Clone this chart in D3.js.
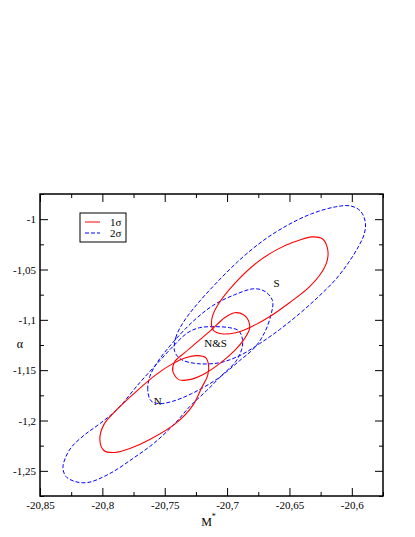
<!DOCTYPE html>
<html>
<head>
<meta charset="utf-8">
<script src="https://cdn.jsdelivr.net/npm/d3@7"></script>
<style>
  body { margin: 0; background: #fff; }
  text { font-family: "Liberation Serif", "DejaVu Serif", serif; }
</style>
</head>
<body>
<div id="chart"></div>
<script>
// axis ticks
const xTicks = [-20.85, -20.8, -20.75, -20.7, -20.65, -20.6];
const yTicks = [-1.25, -1.2, -1.15, -1.1, -1.05, -1];
const xMinor = [-20.825, -20.775, -20.725, -20.675, -20.625, -20.575];
const yMinor = [-1.275, -1.225, -1.175, -1.125, -1.075, -1.025, -0.975];

// 1 sigma contours (red), [M*, alpha]
const sigma1S = [
  [-20.7124, -1.1058], [-20.7116, -1.0959], [-20.7068, -1.0840], [-20.6956, -1.0662],
  [-20.6764, -1.0434], [-20.6604, -1.0305], [-20.6460, -1.0225], [-20.6316, -1.0176],
  [-20.6236, -1.0195], [-20.6196, -1.0285], [-20.6196, -1.0404], [-20.6244, -1.0533],
  [-20.6340, -1.0672], [-20.6500, -1.0830], [-20.6660, -1.0969], [-20.6804, -1.1068],
  [-20.6932, -1.1128], [-20.7044, -1.1138], [-20.7108, -1.1108]
];
const sigma1N = [
  [-20.8020, -1.2189], [-20.7988, -1.2041], [-20.7892, -1.1902], [-20.7756, -1.1743],
  [-20.7580, -1.1554], [-20.7436, -1.1435], [-20.7332, -1.1376], [-20.7236, -1.1356],
  [-20.7172, -1.1376], [-20.7148, -1.1455], [-20.7156, -1.1554], [-20.7204, -1.1674],
  [-20.7276, -1.1852], [-20.7404, -1.2021], [-20.7620, -1.2189], [-20.7780, -1.2279],
  [-20.7900, -1.2318], [-20.7988, -1.2298]
];
const sigma1NS = [
  [-20.7436, -1.1505], [-20.7420, -1.1416], [-20.7340, -1.1326], [-20.7236, -1.1217],
  [-20.7124, -1.1098], [-20.7020, -1.0979], [-20.6940, -1.0930], [-20.6868, -1.0949],
  [-20.6828, -1.1009], [-20.6820, -1.1088], [-20.6860, -1.1187], [-20.6940, -1.1306],
  [-20.7060, -1.1435], [-20.7180, -1.1535], [-20.7300, -1.1594], [-20.7388, -1.1594]
];

// 2 sigma contours (blue, dashed)
const sigma2S = [
  [-20.7420, -1.1316], [-20.7412, -1.1178], [-20.7348, -1.1019], [-20.7244, -1.0850],
  [-20.7100, -1.0652], [-20.6916, -1.0424], [-20.6724, -1.0225], [-20.6524, -1.0066],
  [-20.6324, -0.9947], [-20.6132, -0.9878], [-20.6012, -0.9868], [-20.5932, -0.9918],
  [-20.5892, -1.0027], [-20.5900, -1.0146], [-20.5948, -1.0275], [-20.6028, -1.0434],
  [-20.6132, -1.0602], [-20.6268, -1.0771], [-20.6420, -1.0939], [-20.6580, -1.1098],
  [-20.6740, -1.1237], [-20.6900, -1.1356], [-20.7060, -1.1426], [-20.7236, -1.1435],
  [-20.7364, -1.1396]
];
const sigma2N = [
  [-20.8316, -1.2467], [-20.8292, -1.2358], [-20.8244, -1.2259], [-20.8140, -1.2140],
  [-20.8020, -1.2031], [-20.7884, -1.1892], [-20.7700, -1.1624], [-20.7540, -1.1406],
  [-20.7436, -1.1267], [-20.7316, -1.1128], [-20.7220, -1.1078], [-20.7100, -1.1068],
  [-20.6980, -1.1078], [-20.6908, -1.1108], [-20.6876, -1.1197], [-20.6884, -1.1297],
  [-20.6932, -1.1416], [-20.7044, -1.1554], [-20.7164, -1.1703], [-20.7300, -1.1862],
  [-20.7412, -1.2021], [-20.7580, -1.2219], [-20.7756, -1.2378], [-20.7940, -1.2527],
  [-20.8116, -1.2616], [-20.8220, -1.2606], [-20.8292, -1.2556]
];
const sigma2NS = [
  [-20.7612, -1.1802], [-20.7636, -1.1693], [-20.7620, -1.1564], [-20.7556, -1.1416],
  [-20.7436, -1.1227], [-20.7276, -1.1019], [-20.7116, -1.0860], [-20.6940, -1.0751],
  [-20.6780, -1.0691], [-20.6692, -1.0721], [-20.6636, -1.0810], [-20.6644, -1.0930],
  [-20.6700, -1.1128], [-20.6780, -1.1277], [-20.6900, -1.1406], [-20.7076, -1.1584],
  [-20.7284, -1.1733], [-20.7444, -1.1812], [-20.7548, -1.1832]
];

// sample labels
const labelText = ["N", "S", "N&S"];
const labelX = [-20.7556, -20.6604, -20.7092];
const labelY = [-1.1812, -1.0632, -1.1227];

const legendText = ["1\u03c3", "2\u03c3"];

function drawContourChart(containerId) {
    const width = 415;
    const height = 537;
    const margin = { top: 194, right: 32, bottom: 41, left: 40 };
    const innerW = width - margin.left - margin.right;
    const innerH = height - margin.top - margin.bottom;
    const serif = "'Liberation Serif', 'DejaVu Serif', serif";

    const svg = d3.select(`#${containerId}`)
        .append("svg")
        .attr("width", width)
        .attr("height", height)
        .style("background", "#fff");

    const g = svg.append("g")
        .attr("transform", `translate(${margin.left}, ${margin.top})`);

    const x = d3.scaleLinear().domain([-20.85, -20.575]).range([0, innerW]);
    const y = d3.scaleLinear().domain([-1.275, -0.975]).range([innerH, 0]);

    // plain hyphen and decimal comma, as on the original
    const comma = d => String(d).replace(".", ",");

    // contours
    const line = d3.line()
        .x(d => x(d[0]))
        .y(d => y(d[1]))
        .curve(d3.curveCatmullRomClosed.alpha(0.5));

    [sigma2S, sigma2N, sigma2NS].forEach(c => {
        g.append("path")
            .attr("d", line(c))
            .attr("fill", "none")
            .attr("stroke", "#0000ff")
            .attr("stroke-width", 1)
            .attr("stroke-dasharray", "4,2");
    });
    [sigma1S, sigma1N, sigma1NS].forEach(c => {
        g.append("path")
            .attr("d", line(c))
            .attr("fill", "none")
            .attr("stroke", "#ff0000")
            .attr("stroke-width", 1.1);
    });

    // sample labels
    labelText.forEach((t, i) => {
        g.append("text")
            .attr("x", x(labelX[i]))
            .attr("y", y(labelY[i]))
            .attr("dy", "0.35em")
            .attr("text-anchor", "middle")
            .attr("font-size", 11)
            .text(t);
    });

    // axes, ticks pointing inwards
    const styleAxis = sel => {
        sel.attr("font-family", serif);
        sel.select(".domain").remove();
        sel.selectAll("line").attr("stroke", "#000");
        sel.selectAll("text").attr("font-size", 11).attr("fill", "#000");
    };

    g.append("g").attr("transform", `translate(0, ${innerH})`)
        .call(d3.axisBottom(x).tickValues(xTicks).tickSize(-8).tickPadding(5).tickFormat(comma))
        .call(styleAxis);
    g.append("g").attr("transform", `translate(0, ${innerH})`)
        .call(d3.axisBottom(x).tickValues(xMinor).tickSize(-4).tickFormat(""))
        .call(styleAxis);
    g.append("g")
        .call(d3.axisTop(x).tickValues(xTicks).tickSize(-8).tickFormat(""))
        .call(styleAxis);
    g.append("g")
        .call(d3.axisTop(x).tickValues(xMinor).tickSize(-4).tickFormat(""))
        .call(styleAxis);

    g.append("g")
        .call(d3.axisLeft(y).tickValues(yTicks).tickSize(-8).tickPadding(4).tickFormat(comma))
        .call(styleAxis);
    g.append("g")
        .call(d3.axisLeft(y).tickValues(yMinor).tickSize(-4).tickFormat(""))
        .call(styleAxis);
    g.append("g").attr("transform", `translate(${innerW}, 0)`)
        .call(d3.axisRight(y).tickValues(yTicks).tickSize(-8).tickFormat(""))
        .call(styleAxis);
    g.append("g").attr("transform", `translate(${innerW}, 0)`)
        .call(d3.axisRight(y).tickValues(yMinor).tickSize(-4).tickFormat(""))
        .call(styleAxis);

    // frame
    g.append("rect")
        .attr("width", innerW)
        .attr("height", innerH)
        .attr("fill", "none")
        .attr("stroke", "#000")
        .attr("stroke-width", 1.5);

    // axis titles
    const xt = svg.append("text")
        .attr("x", margin.left + innerW / 2 - 3)
        .attr("y", 526)
        .attr("text-anchor", "middle")
        .attr("font-size", 12);
    xt.append("tspan").text("M");
    xt.append("tspan").attr("dy", -7).attr("font-size", 8).text("*");

    svg.append("text")
        .attr("x", 20)
        .attr("y", 348)
        .attr("text-anchor", "middle")
        .attr("font-size", 12)
        .text("\u03b1");

    // legend
    const lg = svg.append("g").attr("transform", "translate(80, 213)");
    lg.append("rect")
        .attr("width", 46)
        .attr("height", 29)
        .attr("fill", "#fff")
        .attr("stroke", "#000")
        .attr("stroke-width", 1);
    const legendColor = ["#ff0000", "#0000ff"];
    const legendDash = [null, "4,2"];
    legendText.forEach((t, i) => {
        lg.append("line")
            .attr("x1", 5).attr("x2", 20)
            .attr("y1", 9 + i * 11).attr("y2", 9 + i * 11)
            .attr("stroke", legendColor[i])
            .attr("stroke-width", 1)
            .attr("stroke-dasharray", legendDash[i]);
        lg.append("text")
            .attr("x", 30)
            .attr("y", 13 + i * 11)
            .attr("font-size", 11)
            .text(t);
    });
}

drawContourChart("chart");
</script>
</body>
</html>
